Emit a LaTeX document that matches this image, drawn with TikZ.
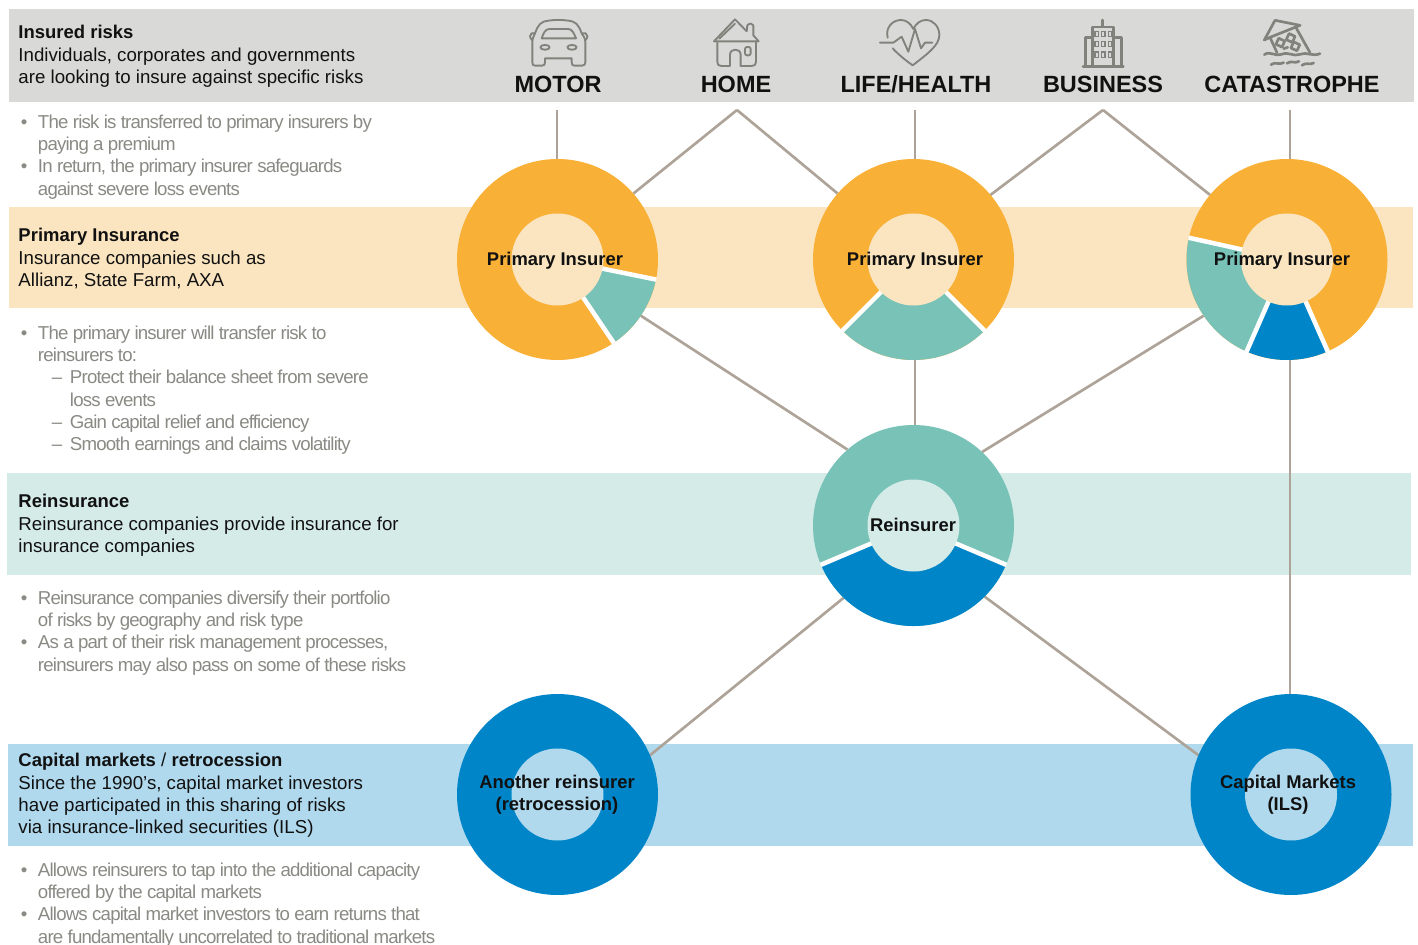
\documentclass[tikz,border=0pt]{standalone}
\usepackage{fontspec}
\setmainfont{Liberation Sans}
\newfontfamily\greyfont[LetterSpace=-4.4]{Liberation Sans}
\definecolor{bandgrey}{HTML}{D9D9D7}
\definecolor{bandorange}{HTML}{FBE5C0}
\definecolor{bandteal}{HTML}{D5EBE8}
\definecolor{bandblue}{HTML}{B0D9ED}
\definecolor{ringorange}{HTML}{F9B036}
\definecolor{ringteal}{HTML}{78C2B8}
\definecolor{ringblue}{HTML}{0086C8}
\definecolor{linkc}{HTML}{AEA398}
\definecolor{greytext}{HTML}{8A8A84}
\definecolor{iconc}{HTML}{82827C}
\definecolor{inkc}{HTML}{111111}
\newcommand{\bl}{\makebox[12.75pt][l]{•}}
\newcommand{\ind}{\makebox[12.75pt]{}}
\newcommand{\ds}{\makebox[23.25pt]{}\makebox[13.5pt][l]{–}}
\newcommand{\dind}{\makebox[36.75pt]{}}
\newcommand{\hb}[1]{{\fontsize{13.85}{16.75}\selectfont\bfseries #1}}
\newcommand{\seg}[4]{% centre node, start, end, colour
  \fill[#4] (#1.center) -- ++(#2:75.375pt) arc[start angle=#2,end angle=#3,radius=75.375pt] -- cycle;
}
\newcommand{\sep}[2]{\draw[white,line width=3.4pt] (#1.center) -- ++(#2:75.6pt);}
\tikzset{
  headtext/.style={inner sep=0,outer sep=0,anchor=north west,align=left,text=inkc,font=\fontsize{14.02}{16.75}\selectfont},
  greylist/.style={inner sep=0,outer sep=0,anchor=north west,align=left,text=greytext,font=\fontsize{14}{16.75}\selectfont\greyfont},
  cat/.style={inner sep=0,outer sep=0,anchor=base,text=inkc,font=\fontsize{17.6}{20}\selectfont\bfseries},
  ring/.style={circle,inner sep=0,outer sep=0,minimum size=150.75pt,draw=none},
  hole/.style={circle,inner sep=0,outer sep=0,minimum size=69pt,draw=none},
  ringlabel/.style={inner sep=0,outer sep=0,align=center,text=inkc,font=\fontsize{13.8}{16.75}\selectfont\bfseries},
  link/.style={draw=linkc,line width=2pt},
  icon/.style={draw=iconc,line width=1.4pt,line join=round,line cap=round},
  iconthick/.style={draw=iconc,line width=2pt,line join=round,line cap=round},
}
\begin{document}
\begin{tikzpicture}[x=0.75pt,y=-0.75pt]
\useasboundingbox (0,0) rectangle (1418,945);
% bands
\fill[bandgrey] (9,9) rectangle (1414,102);
\fill[bandorange] (9,207) rectangle (1413,308);
\fill[bandteal] (7,473) rectangle (1411,575);
\fill[bandblue] (8,744) rectangle (1413,846);
% named positions
\coordinate (tmotor) at (557,110);
\coordinate (thome) at (737,110);
\coordinate (tlife) at (915,110);
\coordinate (tbus) at (1103,110);
\coordinate (tcat) at (1290,110);
\node[ring] (c1) at (557.5,259.5) {};
\node[ring] (c2) at (913.5,259.5) {};
\node[ring] (c3) at (1287,259.5) {};
\node[ring] (re) at (913.5,525.5) {};
\node[ring] (ret) at (557.5,794.5) {};
\node[ring] (cap) at (1291,794.5) {};
% connectors, behind the rings
\draw[link] (tmotor) -- (tmotor |- c1.north);
\draw[link] (thome) -- (c1.41);
\draw[link] (thome) -- (c2.139);
\draw[link] (tlife) -- (tlife |- c2.north);
\draw[link] (tbus) -- (c2.40);
\draw[link] (tbus) -- (c3.140);
\draw[link] (tcat) -- (tcat |- c3.north);
\draw[link] (c1.-34) -- (re.131);
\draw[link] (tlife |- c2.south) -- (tlife |- re.north);
\draw[link] (c3.-146) -- (re.47);
\draw[link] (tcat |- c3.south) -- (tcat |- cap.north);
\draw[link] (re.-134) -- (ret.23);
\draw[link] (re.-45) -- (cap.157);
% ring discs
\fill[ringorange] (c1) circle[radius=75.375pt];
\fill[ringorange] (c2) circle[radius=75.375pt];
\fill[ringorange] (c3) circle[radius=75.375pt];
\fill[ringteal] (re) circle[radius=75.375pt];
\fill[ringblue] (ret) circle[radius=75.375pt];
\fill[ringblue] (cap) circle[radius=75.375pt];
% segments
\seg{c1}{-56}{-11.5}{ringteal}
\sep{c1}{-56}\sep{c1}{-11.5}
\seg{c2}{-135}{-45}{ringteal}
\sep{c2}{-135}\sep{c2}{-45}
\seg{c3}{167.5}{246.3}{ringteal}
\seg{c3}{-113.7}{-66.1}{ringblue}
\sep{c3}{167.5}\sep{c3}{-113.7}\sep{c3}{-66.1}
\seg{re}{-157}{-23}{ringblue}
\sep{re}{-157}\sep{re}{-23}
% holes
\node[hole,fill=bandorange] (h1) at (c1) {};
\node[hole,fill=bandorange] (h2) at (c2) {};
\node[hole,fill=bandorange] (h3) at (c3) {};
\node[hole,fill=bandteal] (h4) at (re) {};
\node[hole,fill=bandblue] (h5) at (ret) {};
\node[hole,fill=bandblue] (h6) at (cap) {};
% ring labels
\node[ringlabel] (l1) at (555,261) {Primary Insurer};
\node[ringlabel] (l2) at (915,261) {Primary Insurer};
\node[ringlabel] (l3) at (1282,261) {Primary Insurer};
\node[ringlabel] (l4) at (913,525) {Reinsurer};
\node[ringlabel] (l5) at (557,795) {Another reinsurer\\(retrocession)};
\node[ringlabel] (l6) at (1288,795) {Capital Markets\\(ILS)};
% header categories
\node[cat] (motor) at (558,93) {MOTOR};
\node[cat] (home) at (736,93) {HOME};
\node[cat] (life) at (916,93) {LIFE/HEALTH};
\node[cat] (bus) at (1103,93) {BUSINESS};
\node[cat] (catas) at (1292,93) {CATASTROPHE};
% left texts
\node[headtext] (t1) at (18.5,25.3) {\hb{Insured risks}\\Individuals, corporates and governments\\are looking to insure against specific risks};
\node[greylist] (g1) at (21,114.5) {\bl The risk is transferred to primary insurers by\\\ind paying a premium\\\bl In return, the primary insurer safeguards\\\ind against severe loss events};
\node[headtext] (t2) at (18.5,228.3) {\hb{Primary Insurance}\\Insurance companies such as\\Allianz, State Farm, AXA};
\node[greylist] (g2) at (21,325.5) {\bl The primary insurer will transfer risk to\\\ind reinsurers to:\\\ds Protect their balance sheet from severe\\\dind loss events\\\ds Gain capital relief and efficiency\\\ds Smooth earnings and claims volatility};
\node[headtext] (t3) at (18.5,494.3) {\hb{Reinsurance}\\Reinsurance companies provide insurance for\\insurance companies};
\node[greylist] (g3) at (21,590.5) {\bl Reinsurance companies diversify their portfolio\\\ind of risks by geography and risk type\\\bl As a part of their risk management processes,\\\ind reinsurers may also pass on some of these risks};
\node[headtext] (t4) at (18.5,753.3) {\hb{Capital markets} / \hb{retrocession}\\Since the 1990’s, capital market investors\\have participated in this sharing of risks\\via insurance-linked securities (ILS)};
\node[greylist] (g4) at (21,862.5) {\bl Allows reinsurers to tap into the additional capacity\\\ind offered by the capital markets\\\bl Allows capital market investors to earn returns that\\\ind are fundamentally uncorrelated to traditional markets};
% icons: car, heart
\begin{scope}[shift={(500,5)},x=0.25pt,y=-0.25pt]
\draw[icon] (97,112) -- (97,172) .. controls (97,180) and (100,182) .. (106,182) -- (126,182) .. controls (133,182) and (135,178) .. (135,172) -- (135,160) -- (215,160) -- (215,172) .. controls (215,180) and (218,182) .. (224,182) -- (246,182) .. controls (253,182) and (256,178) .. (256,172) -- (256,112) .. controls (256,100) and (250,92) .. (245,85) .. controls (235,58) and (228,50) .. (205,47) .. controls (185,44) and (165,44) .. (145,47) .. controls (122,50) and (115,58) .. (105,85) .. controls (102,92) and (97,100) .. (97,112);
\draw[icon] (105,85) -- (95,85) .. controls (88,88) and (88,98) .. (97,106);
\draw[icon] (247,85) -- (257,85) .. controls (264,88) and (264,98) .. (256,106);
\draw[icon] (125,100) .. controls (130,85) and (136,72) .. (148,72) -- (205,72) .. controls (216,72) and (222,85) .. (228,100) -- cycle;
\draw[icon] (135,127) ellipse[x radius=3.5pt,y radius=1.8pt];
\draw[icon] (216,127) ellipse[x radius=3.5pt,y radius=1.8pt];
% heart
\draw[icon] (1163,98) .. controls (1155,65) and (1180,45) .. (1203,45) .. controls (1218,45) and (1232,55) .. (1240,72) .. controls (1248,55) and (1262,45) .. (1278,45) .. controls (1300,45) and (1318,65) .. (1318,90) .. controls (1318,120) and (1285,145) .. (1238,181) .. controls (1215,165) and (1195,148) .. (1178,130);
\draw[icon] (1140,113) -- (1180,113) -- (1205,95) -- (1225,140) -- (1245,72) -- (1263,130) -- (1275,113) -- (1297,113);
\end{scope}
% icon: house
\begin{scope}[shift={(700,12)},x=0.25pt,y=-0.25pt]
\draw[icon] (42,88) -- (105,22) -- (140,58) -- (142,40) .. controls (148,33) and (158,33) .. (160,40) -- (160,70) -- (176,88) -- cycle;
\draw[icon] (58,80) -- (105,35);
\draw[icon] (52,92) -- (52,150) .. controls (52,158) and (56,162) .. (64,162) -- (90,162) -- (90,128) .. controls (90,108) and (122,108) .. (122,128) -- (122,162) -- (155,162) .. controls (163,162) and (168,158) .. (168,150) -- (168,92);
\draw[icon,rounded corners=1.5pt] (135,105) rectangle (152,130);
\end{scope}
% icon: building
\begin{scope}[shift={(960,5)},x=0.25pt,y=-0.25pt]
\draw[iconthick] (428,45) -- (428,62);
\draw[iconthick] (398,182) -- (398,66) -- (460,66) -- (460,182);
\draw[iconthick] (398,98) -- (376,98) -- (376,182);
\draw[iconthick] (460,98) -- (484,98) -- (484,182);
\draw[iconthick] (369,184) -- (490,184);
\foreach \cx in {410,430,450}{\foreach \cy in {87,117,149}{
  \draw[draw=iconc,line width=1pt] (\cx-5,\cy-8) rectangle (\cx+5,\cy+8);}}
\end{scope}
% icon: flooded house
\begin{scope}[shift={(1255,12)},x=0.25pt,y=-0.25pt]
\draw[iconthick] (28,84) -- (60,25) -- (135,40);
\draw[iconthick] (28,84) -- (45,76) -- (135,40);
\draw[iconthick] (45,76) -- (66,122);
\draw[iconthick] (122,45) -- (165,122);
\draw[iconthick,rotate around={-25:(76,92)}] (66,82) rectangle (86,102);
\draw[iconthick,rotate around={-25:(107,78)}] (97,68) rectangle (117,88);
\draw[iconthick,rotate around={-25:(121,103)}] (111,93) rectangle (131,113);
\draw[iconthick] (86,110) -- (98,106);
\draw[iconthick] (28,128) .. controls (45,115) and (60,135) .. (80,127) .. controls (100,118) and (115,135) .. (135,127) .. controls (155,118) and (170,135) .. (195,125);
\draw[iconthick] (48,158) .. controls (60,148) and (72,160) .. (86,152);
\draw[iconthick] (96,154) .. controls (108,144) and (120,156) .. (132,148);
\draw[iconthick] (141,160) .. controls (152,150) and (164,160) .. (176,153);
\end{scope}
\end{tikzpicture}
\end{document}
